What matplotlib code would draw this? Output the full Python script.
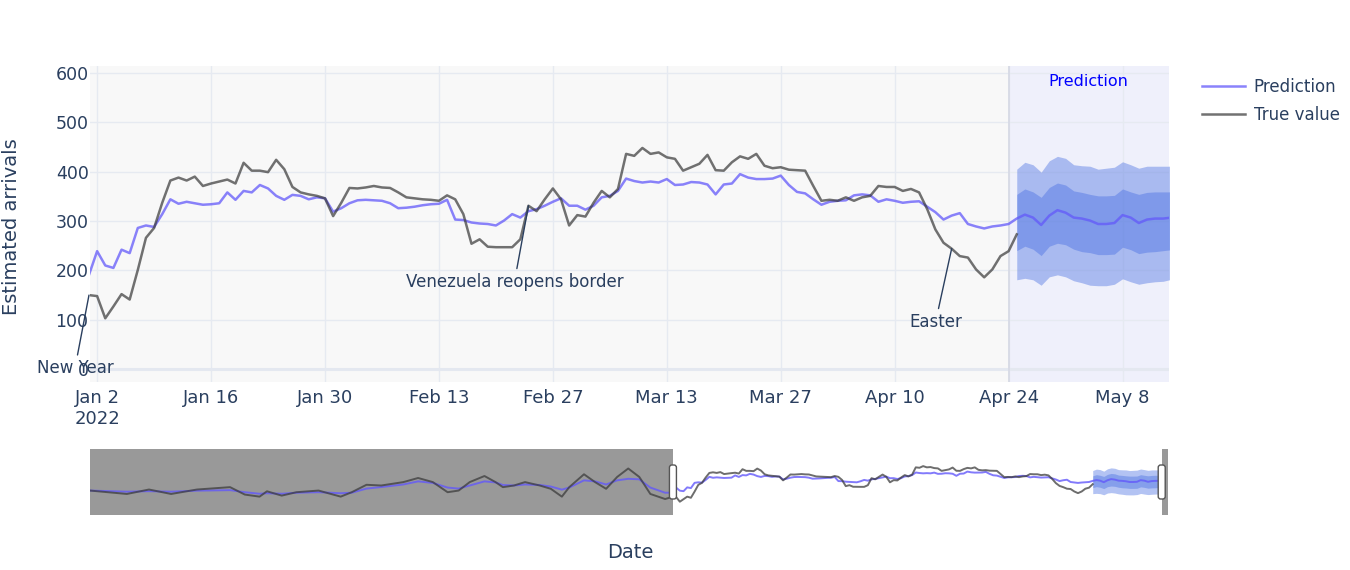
import pandas as pd
import matplotlib
matplotlib.use("Agg")
import matplotlib.pyplot as plt
from matplotlib.patches import FancyBboxPatch
from matplotlib.transforms import IdentityTransform, blended_transform_factory

plt.rcParams["font.family"] = ["DejaVu Sans"]
TXT = "#2a3f5f"

# daily observed arrivals, from 2022-01-01
true_value = [150, 148, 103, 127, 152, 141, 201, 266, 286, 337, 382, 388, 382, 390, 371, 376,
              380, 384, 376, 418, 402, 402, 399, 424, 405, 369, 358, 354, 351, 346, 310, 337,
              367, 366, 368, 371, 368, 367, 358, 348, 346, 344, 343, 341, 352, 344, 314, 254,
              263, 248, 247, 247, 247, 263, 331, 320, 344, 366, 344, 291, 312, 309, 337, 361,
              348, 365, 436, 432, 448, 436, 439, 429, 426, 402, 409, 416, 434, 403, 402, 419,
              431, 426, 436, 412, 407, 409, 404, 403, 402, 371, 341, 343, 341, 348, 341, 348,
              351, 371, 369, 369, 361, 365, 358, 324, 283, 256, 244, 229, 226, 202, 186, 202,
              229, 239, 273]
# in-sample prediction, from 2022-01-01
pred_fit = [191, 239, 210, 205, 242, 235, 286, 291, 288, 314, 344, 335, 339, 336, 333, 334,
            336, 358, 343, 361, 358, 373, 366, 351, 343, 353, 351, 344, 348, 346, 319, 326,
            336, 342, 343, 342, 341, 336, 326, 327, 329, 332, 334, 335, 343, 303, 302, 297,
            295, 294, 291, 301, 314, 307, 320, 324, 331, 339, 346, 331, 331, 323, 331, 348,
            351, 361, 386, 381, 378, 380, 378, 385, 373, 374, 379, 378, 374, 354, 374, 376,
            395, 388, 385, 385, 386, 392, 373, 359, 356, 344, 333, 339, 341, 342, 352, 354,
            352, 339, 344, 341, 337, 339, 340, 329, 318, 303, 311, 316, 294, 289, 285, 289,
            291, 294]
# forecast, from 2022-04-25
fc_median = [305, 313, 307, 292, 311, 322, 317, 307, 305, 301, 294, 294, 296, 312, 307, 296,
             303, 305, 305, 307]
fc_hi_outer = [405, 419, 414, 399, 422, 431, 427, 414, 412, 411, 405, 407, 409, 420, 414, 407,
               411, 411, 411, 411]
fc_hi_inner = [354, 365, 359, 348, 368, 377, 373, 361, 358, 354, 351, 351, 352, 365, 359, 354,
               358, 359, 359, 359]
fc_lo_inner = [240, 249, 243, 230, 249, 255, 252, 243, 238, 236, 232, 232, 233, 247, 242, 234,
               237, 238, 240, 242]
fc_lo_outer = [181, 184, 181, 170, 187, 191, 187, 179, 175, 170, 169, 169, 172, 183, 177, 172,
               175, 177, 178, 182]

# earlier history (only visible in the range slider)
hist_dates = ["2021-07-27", "2021-08-06", "2021-08-12", "2021-08-18", "2021-08-25", "2021-09-03",
              "2021-09-07", "2021-09-11", "2021-09-13", "2021-09-17", "2021-09-21", "2021-09-27",
              "2021-10-03", "2021-10-06", "2021-10-10", "2021-10-14", "2021-10-20", "2021-10-24",
              "2021-10-28", "2021-11-01", "2021-11-04", "2021-11-07", "2021-11-11", "2021-11-14",
              "2021-11-16", "2021-11-19", "2021-11-22", "2021-11-26", "2021-11-29", "2021-12-02",
              "2021-12-04", "2021-12-08", "2021-12-11", "2021-12-14", "2021-12-17", "2021-12-20",
              "2021-12-23", "2021-12-26", "2021-12-30"]
hist_true = [211, 178, 221, 178, 221, 244, 172, 152, 204, 162, 195, 211, 152, 195, 267, 260,
             293, 333, 293, 195, 211, 293, 352, 293, 244, 260, 293, 260, 228, 152, 244, 369,
             293, 228, 343, 425, 343, 178, 129]
hist_pred = [211, 200, 205, 200, 210, 215, 195, 180, 185, 180, 190, 195, 185, 190, 230, 245,
             270, 300, 285, 240, 230, 260, 300, 290, 265, 260, 270, 265, 250, 220, 240, 310,
             300, 270, 310, 325, 320, 240, 190]

event_dates = ["2022-01-01", "2022-02-24", "2022-04-17"]
event_labels = ["New Year", "Venezuela reopens border", "Easter"]

true_dates = pd.date_range("2022-01-01", periods=len(true_value))
fit_dates = pd.date_range("2022-01-01", periods=len(pred_fit))
fc_dates = pd.date_range("2022-04-25", periods=len(fc_median))
pred_dates = fit_dates.append(fc_dates)
pred_all = pred_fit + fc_median
true_s = pd.Series(true_value, index=true_dates)
hist_d = pd.to_datetime(hist_dates)

x0, x1 = pd.Timestamp("2022-01-01 03:00"), pd.Timestamp("2022-05-13 17:00")
pred_start = pd.Timestamp("2022-04-24")
ylim = (-26, 614)

pred_col = (0.39, 0.35, 0.98)
true_col = "#3c3c3c"

fig = plt.figure(figsize=(13.5, 5.7), dpi=100)
ax = fig.add_axes([90 / 1350, 1 - 382 / 570, 1079 / 1350, 316 / 570])
ax.set_facecolor("#f8f8f8")
for s in ax.spines.values():
    s.set_visible(False)
ax.set_axisbelow(True)
ax.grid(True, color="#e6eaf1", lw=1)
ax.axhline(0, color="#e4e8f0", lw=2.2, zorder=0.6)

ax.axvspan(pred_start, x1, color="#eff0fb", lw=0, zorder=0.2)
ax.axvline(pred_start, color="#d7dae5", lw=1.3, zorder=0.7)
ax.text(pred_start + (x1 - pred_start) / 2, 0.95, "Prediction", color="blue", fontsize=11.5,
        ha="center", va="center", transform=blended_transform_factory(ax.transData, ax.transAxes))

ax.fill_between(fc_dates, fc_lo_outer, fc_hi_outer, color="royalblue", alpha=0.4, lw=0)
ax.fill_between(fc_dates, fc_lo_inner, fc_hi_inner, color="royalblue", alpha=0.4, lw=0)
ax.plot(pred_dates, pred_all, color=pred_col, alpha=0.75, lw=1.8, label="Prediction")
ax.plot(true_dates, true_value, color=true_col, alpha=0.72, lw=1.8, label="True value")

offsets = [(-14, -73), (-14, -76), (-16, -73)]
for d, lab, off in zip(event_dates, event_labels, offsets):
    dt = pd.Timestamp(d)
    ax.annotate(lab, xy=(dt, true_s[dt]), xytext=off, textcoords="offset pixels",
                ha="center", va="center", fontsize=12, color=TXT, annotation_clip=False,
                arrowprops=dict(arrowstyle="-", color=TXT, lw=1, shrinkA=1, shrinkB=0), zorder=5)

ax.set_xlim(x0, x1)
ax.set_ylim(*ylim)
ticks = pd.date_range("2022-01-02", periods=10, freq="14D")
ax.set_xticks(ticks)
ax.set_xticklabels(["Jan 2\n2022"] + [f"{t:%b} {t.day}" for t in ticks[1:]])
ax.set_yticks(range(0, 601, 100))
ax.tick_params(axis="x", length=0, pad=5, labelsize=13, labelcolor=TXT)
ax.tick_params(axis="y", length=0, pad=1, labelsize=12.5, labelcolor=TXT)

fig.text(12 / 1350, 1 - 227 / 570, "Estimated arrivals", rotation=90, ha="center", va="center",
         fontsize=14, color=TXT)
fig.text(630 / 1350, 1 - 552 / 570, "Date", ha="center", va="center", fontsize=14, color=TXT)
fig.legend(loc="upper left", bbox_to_anchor=(1187 / 1350, 1 - 63 / 570), frameon=False,
           fontsize=12, handlelength=2.6, handletextpad=0.5, labelspacing=0.62, labelcolor=TXT)

# range slider
axs = fig.add_axes([90 / 1350, 1 - 515 / 570, 1078 / 1350, 66 / 570])
axs.set_facecolor("white")
for s in axs.spines.values():
    s.set_visible(False)
axs.fill_between(fc_dates, fc_lo_outer, fc_hi_outer, color="royalblue", alpha=0.4, lw=0)
axs.fill_between(fc_dates, fc_lo_inner, fc_hi_inner, color="royalblue", alpha=0.4, lw=0)
axs.plot(hist_d.append(pred_dates), hist_pred + pred_all, color=pred_col, alpha=0.8, lw=1.4)
axs.plot(hist_d.append(true_dates), hist_true + true_value, color=true_col, alpha=0.75, lw=1.4)
s0, s1 = hist_d[0], pd.Timestamp("2022-05-15 10:00")
axs.set_xlim(s0, s1)
axs.set_ylim(*ylim)
axs.set_xticks([])
axs.set_yticks([])
axs.axvspan(s0, x0, color="black", alpha=0.4, lw=0)
axs.axvspan(x1, s1, color="black", alpha=0.4, lw=0)

yc = axs.transAxes.transform((0, 0.5))[1]
for xh in (x0, x1):
    xp = axs.transData.transform((matplotlib.dates.date2num(xh), 0))[0]
    fig.patches.append(FancyBboxPatch((xp - 3.5, yc - 17), 7, 34,
                                      boxstyle="round,pad=0,rounding_size=2.5",
                                      transform=IdentityTransform(), facecolor="white",
                                      edgecolor="#555555", lw=1, zorder=10))

fig.savefig("out.png", dpi=100)
